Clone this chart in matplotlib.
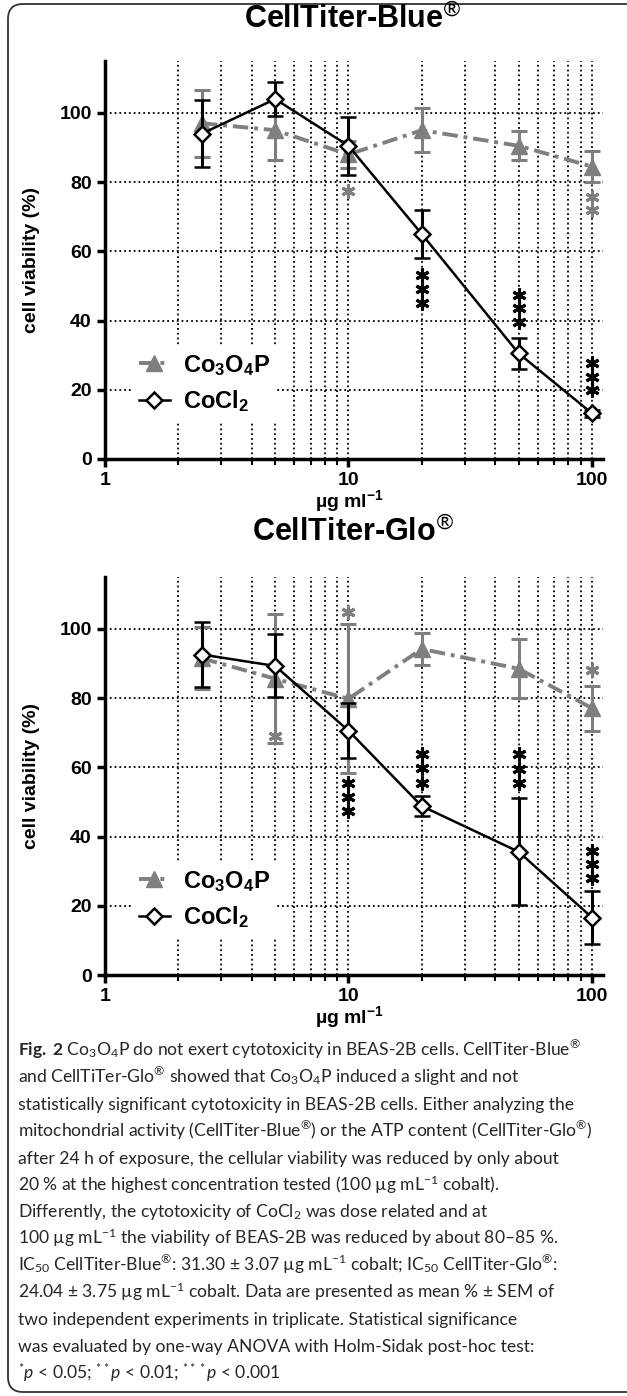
import numpy as np
import matplotlib
matplotlib.use('Agg')
import matplotlib.pyplot as plt
from matplotlib.patches import FancyBboxPatch
from matplotlib.lines import Line2D
from matplotlib.ticker import LogLocator, NullFormatter

plt.rcParams['font.family'] = ['Liberation Sans', 'DejaVu Sans']
plt.rcParams['mathtext.fontset'] = 'custom'
plt.rcParams['mathtext.rm'] = 'Lato'
plt.rcParams['mathtext.it'] = 'Lato:italic'
plt.rcParams['mathtext.sf'] = 'Lato:bold'
plt.rcParams['mathtext.bf'] = 'Liberation Sans:bold'

#data (mean % and SEM)
conc = [2.5, 5, 10, 20, 50, 100]

blue_co3o4p = [97, 95, 88, 95, 90.5, 84.5]
blue_co3o4p_sem = [9.7, 8.7, 4, 6.3, 4.2, 4.5]
blue_cocl2 = [94, 104, 90.5, 65, 30.5, 13.2]
blue_cocl2_sem = [9.7, 5, 8.3, 7, 4.5, 1]

glo_co3o4p = [91.5, 85.6, 79.8, 94.2, 88.5, 77.1]
glo_co3o4p_sem = [9, 18.7, 21.5, 4.5, 8.5, 6.5]
glo_cocl2 = [92.6, 89.3, 70.6, 48.8, 35.6, 16.6]
glo_cocl2_sem = [9.5, 9.1, 8, 2.9, 15.5, 7.6]

#significance stars (x, y of each star)
blue_stars_co3o4p = [(10, [77.4]), (100, [75.8, 71.9])]
blue_stars_cocl2 = [(20, [53.2, 49.1, 45.0]), (50, [47.4, 43.6, 39.7]), (100, [27.6, 23.8, 19.9])]
glo_stars_co3o4p = [(5, [69]), (10, [105]), (100, [88])]
glo_stars_cocl2 = [(10, [55.5, 51.5, 47.3]), (20, [64, 59.7, 55.6]),
                   (50, [63.8, 59.4, 55.4]), (100, [35.9, 32.1, 27.9])]

caption = [
    r"$\mathsf{Fig.\;2}$ Co$_3$O$_4$P do not exert cytotoxicity in BEAS-2B cells. CellTiter-Blue$^{®}$",
    r"and CellTiTer-Glo$^{®}$ showed that Co$_3$O$_4$P induced a slight and not",
    r"statistically significant cytotoxicity in BEAS-2B cells. Either analyzing the",
    r"mitochondrial activity (CellTiter-Blue$^{®}$) or the ATP content (CellTiter-Glo$^{®}$)",
    r"after 24 h of exposure, the cellular viability was reduced by only about",
    r"20 % at the highest concentration tested (100 µg mL$^{-1}$ cobalt).",
    r"Differently, the cytotoxicity of CoCl$_2$ was dose related and at",
    r"100 µg mL$^{-1}$ the viability of BEAS-2B was reduced by about 80–85 %.",
    r"IC$_{50}$ CellTiter-Blue$^{®}$: 31.30 ± 3.07 µg mL$^{-1}$ cobalt; IC$_{50}$ CellTiter-Glo$^{®}$:",
    r"24.04 ± 3.75 µg mL$^{-1}$ cobalt. Data are presented as mean % ± SEM of",
    r"two independent experiments in triplicate. Statistical significance",
    r"was evaluated by one-way ANOVA with Holm-Sidak post-hoc test:",
    r"$^{*}p$ < 0.05; $^{**}p$ < 0.01; $^{***}p$ < 0.001",
]

GRAY = '#7f7f7f'
DASH = (0, (4, 1.5, 1, 1.5))
W, H = 627, 1396
fig = plt.figure(figsize=(W/100, H/100), dpi=100)


def panel(ax, title, title_y, co, co_sem, cl, cl_sem, st_co, st_cl):
    ax.errorbar(conc, co, yerr=co_sem, color=GRAY, ls=DASH, lw=2.8,
                marker='^', ms=11, mfc=GRAY, mec=GRAY, elinewidth=2.2, capsize=6,
                capthick=2.2, zorder=3)
    ax.errorbar(conc, cl, yerr=cl_sem, color='black', ls='-', lw=1.8,
                marker='D', ms=8.5, mfc='white', mec='black', mew=1.8,
                elinewidth=2.2, capsize=6, capthick=2.2, zorder=4)
    for x, ys in st_co:
        ax.plot([x]*len(ys), ys, ls='none', marker=(6, 2, 0), ms=10, mew=2.2,
                color=GRAY, zorder=5)
    for x, ys in st_cl:
        ax.plot([x]*len(ys), ys, ls='none', marker=(6, 2, 0), ms=10, mew=2.2,
                color='black', zorder=5)

    ax.set_xscale('log')
    ax.set_xlim(1, 111)
    ax.set_ylim(0, 115)
    ax.set_yticks([0, 20, 40, 60, 80, 100])
    ax.set_xticks([1, 10, 100], labels=['1', '10', '100'])
    ax.xaxis.set_minor_locator(LogLocator(base=10, subs=np.arange(2, 10)))
    ax.xaxis.set_minor_formatter(NullFormatter())
    ax.set_axisbelow(True)
    ax.grid(True, which='both', axis='x', ls=':', color='black', lw=1.3)
    ax.grid(True, which='major', axis='y', ls=':', color='black', lw=1.3)
    for s in ['top', 'right']:
        ax.spines[s].set_visible(False)
    for s in ['left', 'bottom']:
        ax.spines[s].set_linewidth(2.5)
    ax.tick_params(axis='both', which='major', length=6, width=2.5, labelsize=14)
    ax.tick_params(axis='x', which='minor', length=4, width=1.5)
    for lab in ax.get_xticklabels() + ax.get_yticklabels():
        lab.set_fontweight('bold')
    ax.set_xlabel(r'µg ml$^{\mathbf{-1}}$', fontsize=14, fontweight='bold')
    ax.xaxis.set_label_coords(0.49, -0.072)
    ax.set_ylabel('cell viability (%)', fontsize=14, fontweight='bold', labelpad=14)

    handles = [Line2D([], [], color=GRAY, ls=DASH, lw=2.8, marker='^', ms=11,
                      mfc=GRAY, mec=GRAY),
               Line2D([], [], color='black', lw=1.8, marker='D', ms=8.5,
                      mfc='white', mec='black', mew=1.8)]
    leg = ax.legend(handles, [r'$\mathbf{Co_3O_4P}$', r'$\mathbf{CoCl_2}$'],
                    loc='center left', bbox_to_anchor=(0.03, 0.19), fontsize=17,
                    frameon=True, framealpha=1, edgecolor='none', fancybox=False,
                    handlelength=1.3, handletextpad=0.55, labelspacing=0.45,
                    borderpad=0.3, numpoints=1)
    leg.set_zorder(6)
    fig.text(0.563, title_y, title + r'$^{®}$', ha='center', va='center',
             fontsize=22, fontweight='bold')


ax1 = fig.add_axes([105/W, 1 - 459/H, 498/W, 398/H])
panel(ax1, 'CellTiter-Blue', 1 - 20/H, blue_co3o4p, blue_co3o4p_sem,
      blue_cocl2, blue_cocl2_sem, blue_stars_co3o4p, blue_stars_cocl2)

ax2 = fig.add_axes([105/W, 1 - 975/H, 498/W, 398/H])
panel(ax2, 'CellTiter-Glo', 1 - 533/H, glo_co3o4p, glo_co3o4p_sem,
      glo_cocl2, glo_cocl2_sem, glo_stars_co3o4p, glo_stars_cocl2)

#caption
y0 = 1056
for i, line in enumerate(caption):
    fig.text(18/W, 1 - (y0 + i*26.9)/H, line, ha='left', va='baseline',
             fontsize=12.6, family=['Lato', 'DejaVu Sans'], color='#262626')

#rounded frame
frame = FancyBboxPatch((0.08, 0.04), 6.6, 13.88,
                       boxstyle='round,pad=0,rounding_size=0.15',
                       transform=fig.dpi_scale_trans, fill=False,
                       ec='#333333', lw=1.3)
fig.patches.append(frame)

fig.savefig('out.png', dpi=100)
